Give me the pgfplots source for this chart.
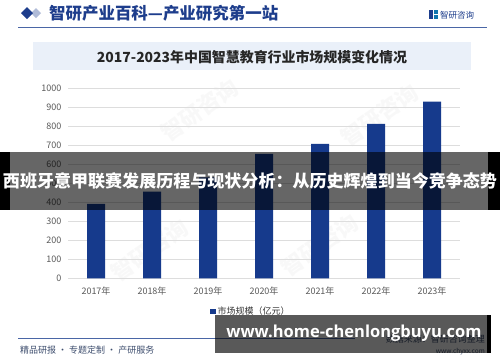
\documentclass[border=0pt]{standalone}
\usepackage{fontspec}
\setmainfont{Noto Sans CJK SC}
\newfontfamily\opensans{Open Sans}
\usepackage{pgfplots}
\pgfplotsset{compat=1.18}
\definecolor{barblue}{HTML}{163A8C}
\definecolor{hdrblue}{HTML}{1D3D8C}
\definecolor{hdrline}{HTML}{4A66A6}
\definecolor{titlebg}{HTML}{EAF0F9}
\definecolor{ticktxt}{HTML}{595959}
\definecolor{gridc}{HTML}{DDDDDD}
\definecolor{foottxt}{HTML}{3E4E6E}
\pgfplotstableread{
x val
0 391
1 456
2 531
3 654
4 707
5 812
6 929
}\datatable
\begin{document}
\begin{tikzpicture}[x=1pt,y=-1pt]
\fill[white] (0,0) rectangle (500,362);
\clip (0,0) rectangle (500,362);
% watermarks
\foreach \px/\py in {150/250,320/245,200/110,380/115}{
  \node[rotate=35,text=gray,opacity=0.05,font=\fontsize{22}{22}\selectfont\bfseries] at (\px,\py) {智研咨询};
}
% header
\fill[hdrblue!35] (31,13) -- (36,8) -- (41,13) -- (36,18) -- cycle;
\fill[hdrblue] (21,13) -- (27,7) -- (33,13) -- (27,19) -- cycle;
\node[anchor=west,inner sep=0,text=hdrblue] at (49,13.5) {\resizebox{229pt}{!}{\bfseries 智研产业百科—产业研究第一站}};
\draw[hdrline,line width=1pt] (18,27.5) -- (487,27.5);
% logo
\fill[hdrblue] (429,10) rectangle (433,19);
\fill[barblue!70!cyan] (433.8,10) rectangle (437.5,14.3);
\fill[barblue!70!cyan] (433.8,15) rectangle (437.5,19);
\node[anchor=west,inner sep=0,text=hdrblue,font=\fontsize{8.5}{9}\selectfont] at (440,14.8) {智研咨询};
% title box
\fill[titlebg] (33,42) rectangle (471,70);
\node[inner sep=0,text=black!85] at (252,57) {\resizebox{310pt}{!}{\bfseries 2017-2023年中国智慧教育行业市场规模变化情况}};
% axis
\coordinate (A) at (68,278.3);
\begin{axis}[
  at={(A)}, anchor=south west,
  scale only axis, width=392pt, height=190.3pt,
  xmin=-0.5, xmax=6.5, ymin=0, ymax=1000,
  ybar, bar width=18pt,
  axis line style={draw=none},
  major tick length=0pt,
  ymajorgrids, grid style={gridc, line width=0.8pt},
  ytick={0,100,...,1000},
  xtick={0,...,6},
  xticklabels={2017年,2018年,2019年,2020年,2021年,2022年,2023年},
  /pgf/number format/assume math mode=true,
  /pgf/number format/1000 sep={},
  ticklabel style={font=\fontsize{9}{9}\selectfont, text=ticktxt},
  yticklabel style={xshift=-3pt},
  xticklabel style={yshift=-5pt},
  legend style={at={(0.467,-0.174)}, anchor=center, draw=none, fill=none,
    font=\fontsize{9}{9}\selectfont, text=black!80, inner sep=0pt},
  legend image code/.code={\fill[barblue] (0pt,-2.6pt) rectangle (5.2pt,2.6pt);},
]
\addplot[fill=barblue, draw=none] table[x=x,y=val]{\datatable};
\addlegendentry{市场规模（亿元）}
\end{axis}
% footer
\draw[hdrline,line width=0.8pt] (18,338.3) -- (355,338.3);
\node[anchor=west,inner sep=0,text=foottxt,font=\fontsize{9}{9}\selectfont] at (20,350) {精品研报 · 专题定制 · 产研服务};
\node[anchor=east,inner sep=0,text=foottxt,font=\fontsize{9}{9}\selectfont] at (485,339.5) {数据来源：智研咨询整理};
\node[anchor=east,inner sep=0,text=foottxt,font=\fontsize{6.5}{7}\selectfont] at (485,352) {www.chyxx.com};
% overlay banner 1
\fill[black,opacity=0.6] (10,151.7) rectangle (488,210);
\fill[black] (0,151.7) rectangle (10,210);
\fill[black] (488,151.7) rectangle (500,210);
\node[inner sep=0,text=white] at (250,181) {\resizebox{494pt}{!}{\bfseries 西班牙意甲联赛发展历程与现状分析：从历史辉煌到当今竞争态势}};
% overlay banner 2
\fill[black,opacity=0.65] (215,315) rectangle (487,352.5);
\fill[black] (487,315) rectangle (490.5,352.5);
\node[inner sep=0,text=white] at (354,333.5) {\resizebox{255pt}{!}{\opensans\bfseries www.home-chenlongbuyu.com}};
\end{tikzpicture}
\end{document}
